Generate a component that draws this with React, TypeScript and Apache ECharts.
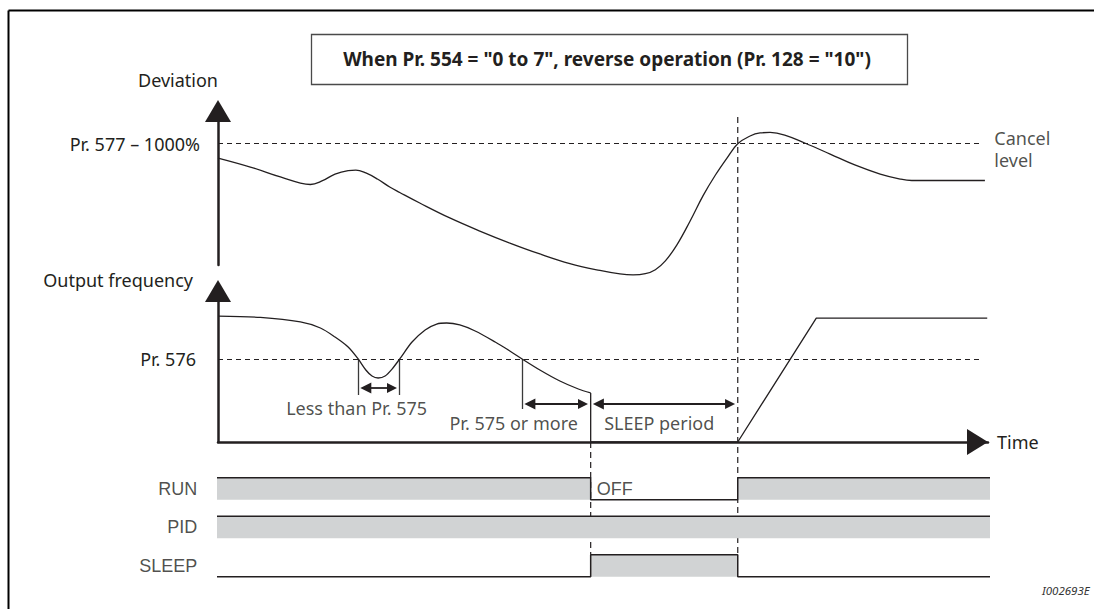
import React, { useEffect, useRef } from "react";
import * as echarts from "echarts";

const INK = "#231f20";
const GRAY = "#d1d3d4";
const FONT = "'Noto Sans', sans-serif";
const SIG_FONT = "'Liberation Sans', Arial, sans-serif";

const TITLE = 'When Pr. 554 = "0 to 7", reverse operation (Pr. 128 = "10")';
const DOC_ID = "I002693E";

// time units: 0 = vertical axes, 100 = end of the time axis
const T_MAX = 100;
const T_DIP_IN = 18.2;
const T_DIP_OUT = 23.6;
const T_BELOW = 39.5;
const T_SLEEP = 48.4;
const T_WAKE = 67.5;
const T_LEVEL_END = 99;
const T_SIG_START = -1.4;
const T_SIG_END = 100.6;

// deviation (% of cancel level)
const DEV_MAX = 127;
const CANCEL_LEVEL = 100;
const DEV_GUIDE_TOP = 122;

// output frequency (% of axis)
const FREQ_MAX = 100;
const PR576_LEVEL = 55;

const deviation: [number, number][] = [
  [0, 88.2], [4.2, 80.8], [8.1, 72.6], [10.7, 67.6], [12.0, 66.4], [13.5, 69.3],
  [15.2, 75.0], [16.9, 77.9], [17.9, 78.3], [19.2, 75.9], [20.7, 70.9], [22.3, 64.3],
  [23.6, 59.8], [26.2, 51.1], [30.1, 38.8], [34.0, 28.0], [37.9, 18.1], [41.8, 9.1],
  [45.7, 1.2], [49.6, -4.5], [52.2, -7.4], [53.9, -8.2], [55.5, -7.2], [56.8, -3.9],
  [58.1, 3.4], [59.6, 16.6], [61.3, 36.1], [63.0, 57.2], [64.6, 74.2], [66.1, 88.2],
  [67.5, 100], [69.1, 106.4], [70.4, 108.9], [71.7, 109.3], [73.6, 107.2], [76.2, 100.6],
  [79.5, 91.5], [82.7, 82.5], [86.0, 75.0], [88.6, 70.9], [90.1, 69.7], [99.6, 69.7],
];

const frequencyBeforeSleep: [number, number][] = [
  [0, 83.4], [5.5, 82.5], [10.7, 79.5], [13.3, 75.5], [15.2, 69.5], [16.9, 62.9],
  [18.2, 55.0], [19.2, 47.7], [20.0, 43.7], [20.8, 42.4], [21.7, 43.7], [22.6, 48.3],
  [23.6, 55.0], [25.2, 66.2], [26.9, 74.2], [28.4, 78.1], [29.7, 78.8], [31.4, 77.5],
  [33.4, 73.5], [36.0, 66.2], [37.9, 60.3], [39.5, 55.0], [41.8, 47.7], [44.4, 40.4],
  [46.8, 35.1], [48.4, 32.5],
];

const frequencyAfterSleep: [number, number][] = [
  [48.4, 32.5], [48.4, 0], [67.5, 0], [77.7, 82.1], [99.9, 82.1],
];

// marker extents below Pr. 576 and double-arrow levels (frequency units)
const markers: { t: number; bottom: number }[] = [
  { t: T_DIP_IN, bottom: 31.1 },
  { t: T_DIP_OUT, bottom: 31.1 },
  { t: T_BELOW, bottom: 21.9 },
];
const dimensionArrows: { from: number; to: number; level: number }[] = [
  { from: T_DIP_IN, to: T_DIP_OUT, level: 35.8 },
  { from: T_BELOW, to: T_SLEEP, level: 25.2 },
  { from: T_SLEEP, to: T_WAKE, level: 25.2 },
];
const annotations: { text: string; t: number; v: number }[] = [
  { text: "Less than Pr. 575", t: 18.0, v: 22.5 },
  { text: "Pr. 575 or more", t: 38.4, v: 12.6 },
  { text: "SLEEP period", t: 57.3, v: 12.6 },
];

// signals (0 = off, 1 = on), rows from top
const signalNames = ["RUN", "PID", "SLEEP"];
const runStates: [number, number][] = [[T_SIG_START, 1], [T_SLEEP, 0], [T_WAKE, 1], [T_SIG_END, 1]];
const pidStates: [number, number][] = [[T_SIG_START, 1], [T_SIG_END, 1]];
const sleepStates: [number, number][] = [[T_SIG_START, 0], [T_SLEEP, 1], [T_WAKE, 0], [T_SIG_END, 0]];
const signalStates = [runStates, pidStates, sleepStates];
const stateTexts = [{ row: 0, text: "OFF" }, { row: 2, text: "ON" }];

const SIG_HIGH = 0.57;
const SIG_MAX = 3.5;

export default function App() {
  const ref = useRef<HTMLDivElement>(null);
  useEffect(() => {
    const chart = echarts.init(ref.current!, null, { renderer: "svg" });
    const axisLineStyle = { color: INK, width: 2.5 };
    const hidden = { show: false };
    const rowBase = (i: number) => signalNames.length - 1 - i;

    const textStyle = { color: INK, fontSize: 18, fontFamily: FONT };

    const series: any[] = [
      {
        type: "line", xAxisIndex: 0, yAxisIndex: 0, data: deviation, smooth: 0.4,
        showSymbol: false, symbol: "none", clip: false, silent: true,
        lineStyle: { color: INK, width: 1.3 },
        markLine: {
          silent: true, symbol: ["none", "none"],
          lineStyle: { color: INK, width: 1, type: [5, 4] },
          label: { show: true, position: "start", distance: 18, formatter: "Pr. 577 – 1000%", ...textStyle },
          data: [[{ coord: [0, CANCEL_LEVEL] }, { coord: [T_LEVEL_END, CANCEL_LEVEL] }]],
        },
      },
      {
        type: "scatter", xAxisIndex: 0, yAxisIndex: 0, symbolSize: 0, silent: true, clip: false,
        data: [{ value: [T_LEVEL_END, CANCEL_LEVEL], name: "Cancel\nlevel" }],
        label: { show: true, position: "right", distance: 14, offset: [0, 5], formatter: "{b}", lineHeight: 22, ...textStyle },
      },
      {
        type: "line", xAxisIndex: 1, yAxisIndex: 1, data: frequencyBeforeSleep, smooth: 0.3,
        showSymbol: false, symbol: "none", clip: false, silent: true,
        lineStyle: { color: INK, width: 1.3 },
        markLine: {
          silent: true, symbol: ["none", "none"],
          lineStyle: { color: INK, width: 1, type: [5, 4] },
          label: { show: true, position: "start", distance: 22, formatter: "Pr. 576", ...textStyle },
          data: [[{ coord: [0, PR576_LEVEL] }, { coord: [T_LEVEL_END, PR576_LEVEL] }]],
        },
      },
      {
        type: "line", xAxisIndex: 1, yAxisIndex: 1, data: frequencyAfterSleep,
        showSymbol: false, symbol: "none", clip: false, silent: true,
        lineStyle: { color: INK, width: 1.3 },
      },
      {
        type: "lines", coordinateSystem: "cartesian2d", xAxisIndex: 1, yAxisIndex: 1, silent: true,
        symbol: "none", lineStyle: { color: "#3a3a3a", width: 1.3, opacity: 1 },
        data: markers.map((m) => ({ coords: [[m.t, PR576_LEVEL], [m.t, m.bottom]] })),
      },
      {
        type: "lines", coordinateSystem: "cartesian2d", xAxisIndex: 1, yAxisIndex: 1, silent: true,
        symbol: ["triangle", "triangle"], symbolSize: [11, 10],
        lineStyle: { color: INK, width: 1.8, opacity: 1 },
        data: dimensionArrows.map((d) => ({ coords: [[d.from + 1.0, d.level], [d.to - 1.0, d.level]] })),
      },
      {
        type: "scatter", xAxisIndex: 1, yAxisIndex: 1, symbolSize: 0, silent: true, clip: false,
        data: annotations.map((a) => ({ value: [a.t, a.v], name: a.text })),
        label: { show: true, position: "inside", formatter: "{b}", ...textStyle },
      },
      ...signalStates.map((states, i) => ({
        type: "line", xAxisIndex: 2, yAxisIndex: 2, step: "end", silent: true, clip: false,
        showSymbol: false, symbol: "none",
        data: states.map(([t, s]) => [t, rowBase(i) + s * SIG_HIGH]),
        lineStyle: { color: INK, width: 1.5 },
        areaStyle: { color: GRAY, opacity: 1, origin: rowBase(i) },
      })),
      {
        type: "scatter", xAxisIndex: 2, yAxisIndex: 2, symbolSize: 0, silent: true, clip: false,
        data: signalNames.map((n, i) => ({ value: [T_SIG_START, rowBase(i) + SIG_HIGH / 2], name: n })),
        label: { show: true, position: "left", distance: 10, formatter: "{b}", color: INK, fontSize: 18, fontFamily: SIG_FONT },
      },
      {
        type: "scatter", xAxisIndex: 2, yAxisIndex: 2, symbolSize: 0, silent: true, clip: false,
        data: stateTexts.map((s) => ({ value: [T_SLEEP, rowBase(s.row) + SIG_HIGH / 2], name: s.text })),
        label: { show: true, position: "right", distance: 6, formatter: "{b}", color: INK, fontSize: 18, fontFamily: SIG_FONT },
      },
    ];

    chart.setOption({
      animation: false,
      backgroundColor: "#fff",
      grid: [
        { left: 218, right: 106, top: 111, height: 154 },
        { left: 218, right: 106, top: 291, height: 151 },
        { left: 218, right: 106, top: 442, height: SIG_MAX * 38.5 },
      ],
      xAxis: [
        { gridIndex: 0, type: "value", min: 0, max: T_MAX, show: false },
        {
          gridIndex: 1, type: "value", min: 0, max: T_MAX,
          name: "Time", nameLocation: "end", nameGap: 9,
          nameTextStyle: { ...textStyle, align: "left", verticalAlign: "middle" },
          axisLine: { show: true, onZero: false, symbol: ["none", "triangle"], symbolSize: [26, 21], symbolOffset: [0, -10.5], lineStyle: axisLineStyle },
          axisTick: hidden, axisLabel: hidden, splitLine: hidden,
        },
        { gridIndex: 2, type: "value", min: 0, max: T_MAX, show: false },
      ],
      yAxis: [
        {
          gridIndex: 0, type: "value", min: 0, max: DEV_MAX,
          name: "Deviation", nameLocation: "end", nameGap: 31,
          nameTextStyle: { ...textStyle, align: "right", verticalAlign: "middle" },
          axisLine: { show: true, onZero: false, symbol: ["none", "triangle"], symbolSize: [26, 22], lineStyle: axisLineStyle },
          axisTick: hidden, axisLabel: hidden, splitLine: hidden,
        },
        {
          gridIndex: 1, type: "value", min: 0, max: FREQ_MAX,
          name: "Output frequency", nameLocation: "end", nameGap: 11,
          nameTextStyle: { ...textStyle, align: "right", verticalAlign: "middle", padding: [0, 25, 0, 0] },
          axisLine: { show: true, onZero: false, symbol: ["none", "triangle"], symbolSize: [26, 22], lineStyle: axisLineStyle },
          axisTick: hidden, axisLabel: hidden, splitLine: hidden,
        },
        { gridIndex: 2, type: "value", min: 0, max: SIG_MAX, show: false },
      ],
      series,
    });

    const px = (g: number, t: number, v: number) => chart.convertToPixel({ gridIndex: g }, [t, v]) as number[];
    const wakeTop = px(0, T_WAKE, DEV_GUIDE_TOP);
    const wakeBottom = px(2, T_WAKE, rowBase(2) + SIG_HIGH);
    const sleepTop = px(1, T_SLEEP, 0);
    const sleepBottom = px(2, T_SLEEP, rowBase(2) + SIG_HIGH);
    const guideStyle = { stroke: INK, lineWidth: 1.2, lineDash: [6, 4] };

    chart.setOption({
      graphic: [
        { type: "line", silent: true, shape: { x1: 8.5, y1: 10.5, x2: 1094, y2: 10.5 }, style: { stroke: "#000", lineWidth: 2 } },
        { type: "line", silent: true, shape: { x1: 8.5, y1: 10.5, x2: 8.5, y2: 609 }, style: { stroke: "#000", lineWidth: 2 } },
        { type: "rect", silent: true, shape: { x: 311.5, y: 34.5, width: 596, height: 50 }, style: { fill: "#fff", stroke: "#4a4a4a", lineWidth: 1.3 } },
        { type: "text", silent: true, x: 607, y: 59, style: { text: TITLE, fill: INK, font: `bold 19px ${FONT}`, align: "center", verticalAlign: "middle" } },
        { type: "text", silent: true, x: 1042, y: 590, style: { text: DOC_ID, fill: "#333", font: `italic 11.5px ${FONT}`, align: "left", verticalAlign: "middle" } },
        { type: "line", silent: true, shape: { x1: wakeTop[0], y1: wakeTop[1], x2: wakeBottom[0], y2: wakeBottom[1] }, style: guideStyle },
        { type: "line", silent: true, shape: { x1: sleepTop[0], y1: sleepTop[1], x2: sleepBottom[0], y2: sleepBottom[1] }, style: guideStyle },
      ],
    });

    return () => chart.dispose();
  }, []);
  return <div ref={ref} style={{ position: "fixed", left: 0, top: 0, width: 1094, height: 609, background: "#fff" }} />;
}
